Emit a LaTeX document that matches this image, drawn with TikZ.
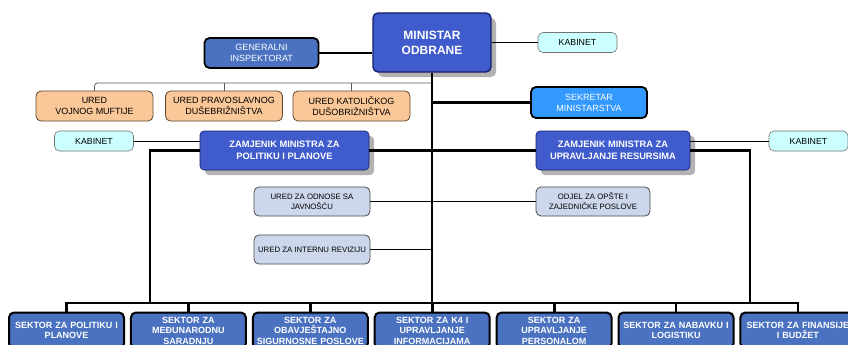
\documentclass[tikz,border=0pt]{standalone}
\usepackage{fontspec}
\setmainfont{Liberation Sans}
\usepackage{tikz}
\usetikzlibrary{positioning,shadows}
\definecolor{chiefblue}{RGB}{64,92,204}
\definecolor{navyline}{RGB}{22,30,105}
\definecolor{sectorblue}{RGB}{74,114,192}
\definecolor{secblue}{RGB}{51,153,255}
\definecolor{cabcyan}{RGB}{204,255,255}
\definecolor{chapfill}{RGB}{250,200,152}
\definecolor{chapline}{RGB}{95,70,45}
\definecolor{officefill}{RGB}{205,215,235}

\begin{document}
\begin{tikzpicture}[x=1pt, y=-1pt,
  every node/.style={align=center, inner sep=1pt},
  chief/.style={rectangle, rounded corners=5pt, fill=chiefblue, draw=navyline, line width=1.4pt,
    text=white, font=\bfseries\fontsize{12}{15}\selectfont, minimum width=118pt, minimum height=59pt,
    drop shadow={shadow xshift=5pt, shadow yshift=-5pt, fill=black!30, opacity=1}},
  deputy/.style={rectangle, rounded corners=4pt, fill=chiefblue, draw=navyline, line width=0.6pt,
    text=white, font=\bfseries\fontsize{9.3}{12}\selectfont, minimum height=39pt,
    drop shadow={shadow xshift=5pt, shadow yshift=-5pt, fill=black!30, opacity=1}},
  staff/.style={rectangle, rounded corners=5pt, draw=black, line width=1.8pt, text=white,
    font=\fontsize{9}{11}\selectfont, minimum width=114pt, minimum height=30pt},
  cabinet/.style={rectangle, rounded corners=5pt, fill=cabcyan, draw=black!55, line width=0.6pt,
    font=\fontsize{8.8}{10}\selectfont, minimum width=79pt, minimum height=20pt},
  chaplain/.style={rectangle, rounded corners=5pt, fill=chapfill, draw=chapline, line width=0.8pt,
    font=\fontsize{9}{11.3}\selectfont, minimum width=117pt, minimum height=30pt},
  office/.style={rectangle, rounded corners=5pt, fill=officefill, draw=black!70, line width=0.8pt,
    font=\fontsize{7.8}{10}\selectfont, minimum width=116pt, minimum height=29pt},
  sector/.style={rectangle, rounded corners=5pt, fill=sectorblue, draw=black, line width=2pt,
    text=white, font=\bfseries\fontsize{9}{10.5}\selectfont, text width=113pt, minimum height=36pt},
  main/.style={line width=2.8pt, black},
  link/.style={line width=0.7pt, black},
  bracket/.style={line width=0.8pt, black!65, rounded corners=3pt}]
\clip (0,0) rectangle (848,345);
\fill[white] (0,0) rectangle (848,345);

\node[chief] (min) at (432,42.5) {MINISTAR\\ODBRANE};
\node[staff, fill=sectorblue] (gen) at (261.5,53) {GENERALNI\\INSPEKTORAT};
\node[cabinet] (kabM) at (577.5,42.5) {KABINET};

\node[chaplain] (u1) at (94.5,106) {URED\\VOJNOG MUFTIJE};
\node[chaplain] (u2) at (224,106) {URED PRAVOSLAVNOG\\DUŠEBRIŽNIŠTVA};
\node[chaplain] (u3) at (351.5,106) {URED KATOLIČKOG\\DUŠOBRIŽNIŠTVA};
\node[staff, fill=secblue, minimum width=116pt, minimum height=31pt] (sek) at (589,102.5) {SEKRETAR\\MINISTARSTVA};

\node[cabinet] (kabL) at (94,141) {KABINET};
\node[deputy, minimum width=169pt] (zam1) at (284.5,150.5) {ZAMJENIK MINISTRA ZA\\POLITIKU I PLANOVE};
\node[deputy, minimum width=154pt] (zam2) at (613,150.5) {ZAMJENIK MINISTRA ZA\\UPRAVLJANJE RESURSIMA};
\node[cabinet] (kabR) at (808.5,141) {KABINET};

\node[office] (odn) at (312,201.5) {URED ZA ODNOSE SA\\JAVNOŠĆU};
\node[office] (rev) at (312,249.5) {URED ZA INTERNU REVIZIJU};
\node[office, minimum width=114pt] (odj) at (593,201.5) {ODJEL ZA OPŠTE I\\ZAJEDNIČKE POSLOVE};

\node[sector] (s1) at (66.5,330.5) {SEKTOR ZA POLITIKU I\\PLANOVE};
\node[sector, right=4.9pt of s1] (s2) {SEKTOR ZA\\MEĐUNARODNU\\SARADNJU};
\node[sector, right=4.9pt of s2] (s3) {SEKTOR ZA\\OBAVJEŠTAJNO\\SIGURNOSNE POSLOVE};
\node[sector, right=4.9pt of s3] (s4) {SEKTOR ZA K4 I\\UPRAVLJANJE\\INFORMACIJAMA};
\node[sector, right=4.9pt of s4] (s5) {SEKTOR ZA\\UPRAVLJANJE\\PERSONALOM};
\node[sector, right=4.9pt of s5] (s6) {SEKTOR ZA NABAVKU I\\LOGISTIKU};
\node[sector, right=4.9pt of s6] (s7) {SEKTOR ZA FINANSIJE\\I BUDŽET};

\coordinate (brk) at (432,83);
\coordinate (busL) at (150,303);
\coordinate (busR) at (750,303);

% links
\draw[bracket] (u1.north) |- (brk);
\draw[bracket] (u2.north) -- (u2.north |- brk);
\draw[bracket] (u3.north) -- (u3.north |- brk);
\draw[link] (min.east) -- (kabM.west);
\draw[link] (kabL.east) -- (kabL.east -| zam1.west);
\draw[link] (zam2.east |- kabR) -- (kabR.west);
\draw[link] (odn.east) -- (odj.west);
\draw[link] (rev.east) -- (rev.east -| min.south);
\draw[main] (gen.east) -- (gen.east -| min.west);
\draw[main] (min.south) -- (min.south |- s4.north);
\draw[main] (sek.west) -- (sek.west -| min.south);
\draw[main] (zam1.east) -- (zam2.west);
\draw[main] (zam1.west) -| (busL);
\draw[main] (zam2.east) -| (busR);
\draw[main] (s1.north) |- (busL) -- (busR) -| (s7.north);
\foreach \i in {2,...,6}
  \draw[main] (s\i.north) -- (s\i.north |- busL);
\end{tikzpicture}
\end{document}
